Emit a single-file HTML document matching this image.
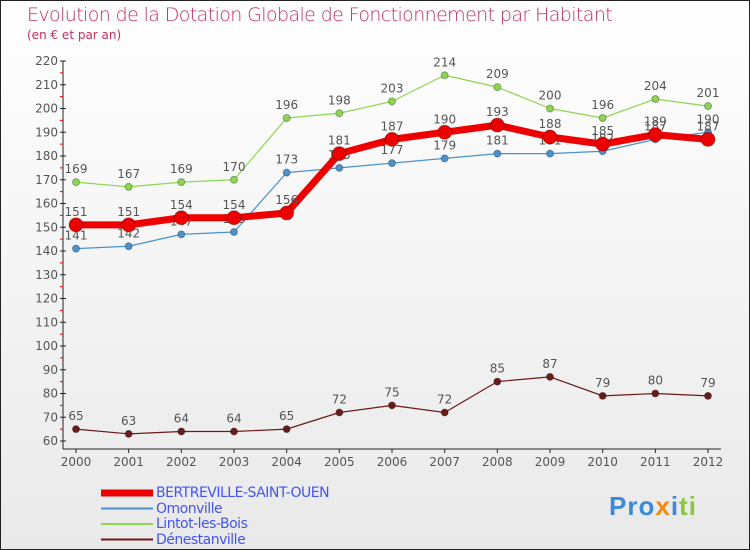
<!DOCTYPE html>
<html><head><meta charset="utf-8"><style>
body{margin:0;}
#wrap{position:relative;width:748px;height:548px;border:1px solid #222;background:linear-gradient(#fff,#e9e9e9);font-family:"DejaVu Sans","Liberation Sans",sans-serif;overflow:hidden}
#title{position:absolute;left:26px;top:3px;font-size:19px;color:#c0305a;letter-spacing:-0.6px;font-weight:300}
#sub{position:absolute;left:26px;top:27px;font-size:12px;color:#c0305a}
.leg{position:absolute;left:155px;font-size:14px;color:#4455ee;letter-spacing:-0.5px}
</style></head><body>
<div id="wrap">
<div id="title">Evolution de la Dotation Globale de Fonctionnement par Habitant</div>
<div id="sub">(en € et par an)</div>
<svg id="chart" width="748" height="548" style="position:absolute;left:0;top:0"></svg>
<div class="leg" style="top:484px">BERTREVILLE-SAINT-OUEN</div>
<div class="leg" style="top:500px">Omonville</div>
<div class="leg" style="top:515px">Lintot-les-Bois</div>
<div class="leg" style="top:531px">Dénestanville</div>
<div style="position:absolute;left:608px;top:490px;font-size:26px;font-weight:bold;font-family:'Liberation Sans',sans-serif;letter-spacing:1px"><span style="color:#3a8ad8">Pro</span><span style="color:#f08a10">x</span><span style="color:#3a8ad8">i</span><span style="color:#8cc63f">ti</span></div>
</div>
<script>
const years=[2000,2001,2002,2003,2004,2005,2006,2007,2008,2009,2010,2011,2012];
const bertreville=[151,151,154,154,156,181,187,190,193,188,185,189,187];
const omonville=[141,142,147,148,173,175,177,179,181,181,182,187,190];
const lintot=[169,167,169,170,196,198,203,214,209,200,196,204,201];
const denestanville=[65,63,64,64,65,72,75,72,85,87,79,80,79];
const yTicks=[60,70,80,90,100,110,120,130,140,150,160,170,180,190,200,210,220];
const NS="http://www.w3.org/2000/svg";
const svg=document.getElementById('chart');
function x(i){return 75+i*(707-75)/(years.length-1);}
function y(v){return 440-(v-60)*(380/160);}
function mk(t,a){const e=document.createElementNS(NS,t);for(const k in a)e.setAttribute(k,a[k]);svg.appendChild(e);return e;}
let ax=mk('line',{x1:62,y1:y(220),x2:62,y2:448,stroke:'#222','stroke-width':1});


let bx=mk('line',{x1:62,y1:448,x2:720,y2:448,stroke:'#222','stroke-width':1});


yTicks.forEach((v,k)=>{
  mk('line',{x1:59,y1:y(v),x2:65,y2:y(v),stroke:'#222'});
  if(k<yTicks.length-1) mk('line',{x1:59,y1:y(v+5),x2:62,y2:y(v+5),stroke:'#e00'});
  const t=mk('text',{x:57,y:y(v)+4,'text-anchor':'end','font-size':12,fill:'#555'});t.textContent=v;
  
  
});
years.forEach((yr,i)=>{
  mk('line',{x1:x(i),y1:448,x2:x(i),y2:452,stroke:'#222'});
  const t=mk('text',{x:x(i),y:465,'text-anchor':'middle','font-size':12,fill:'#555'});t.textContent=yr;
  
  
});
function series(d,col,w,r,name,labels){
  const p=mk('polyline',{points:d.map((v,i)=>x(i)+','+y(v)).join(' '),fill:'none',stroke:col,'stroke-width':w,'stroke-linejoin':'round'});
  
  
  d.forEach((v,i)=>{
    const c=mk('circle',{cx:x(i),cy:y(v),r:r,fill:col,stroke:'rgba(0,0,0,0.3)','stroke-width':1});
    
    
    if(labels){const t=mk('text',{x:x(i),y:y(v)-9,'text-anchor':'middle','font-size':12,fill:'#555'});t.textContent=v;
    
    }
  });
}
series(lintot,'#8cd650',1.2,3.5,'lintot',true);
series(denestanville,'#6b1a1a',1.2,3.5,'denestanville',true);
series(omonville,'#4a92cc',1.2,3.5,'omonville',true);
series(bertreville,'#ee0000',7,7,'bertreville',true);
[['#ee0000',7],['#4a92cc',2],['#8cd650',2],['#6b1a1a',2]].forEach((c,i)=>{
  const l=mk('line',{x1:100,y1:492+i*15.5,x2:152,y2:492+i*15.5,stroke:c[0],'stroke-width':c[1]});
  
  
});
</script>
</body></html>
